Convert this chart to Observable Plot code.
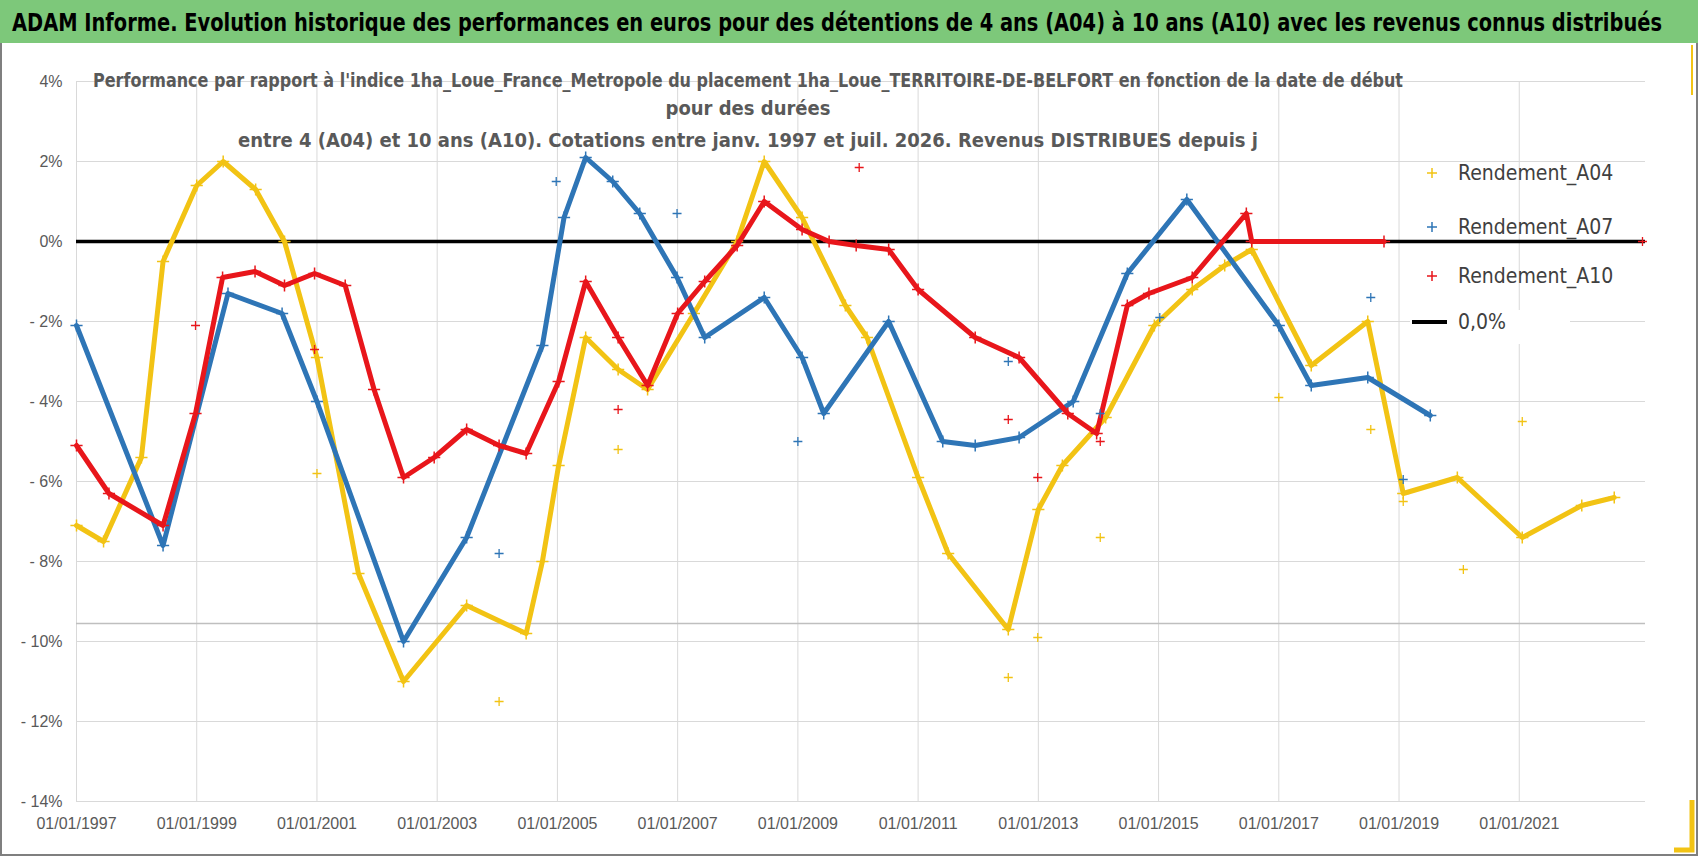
<!DOCTYPE html>
<html><head><meta charset="utf-8">
<script src="https://cdn.jsdelivr.net/npm/d3@7"></script>
<script src="https://cdn.jsdelivr.net/npm/@observablehq/plot@0.6"></script>
<style>
body{margin:0;background:#fff;font-family:"Liberation Sans Narrow","DejaVu Sans Condensed",sans-serif;}
#wrap{position:relative;width:1698px;height:856px;overflow:hidden;}
#chart{position:absolute;left:0;top:0;}
#over{position:absolute;left:0;top:0;pointer-events:none;}
</style></head><body>
<div id="wrap"><div id="chart"></div><svg id="over" width="1698" height="856"></svg></div>
<script>
// Data (x = decimal year, y = performance %)
const a04X=[1997,1997.45,1998.08,1998.44,1999,1999.44,1999.98,2000.46,2001,2001.69,2002.44,2003.49,2004.48,2004.75,2005.02,2005.47,2006.01,2006.5,2007.27,2007.99,2008.44,2009.07,2009.79,2010.15,2011,2011.5,2012.5,2013,2013.4,2014.12,2014.93,2015.56,2016.1,2016.55,2017.54,2018.48,2019.07,2019.97,2021.05,2022.04,2022.58];
const a04Y=[-7.1,-7.5,-5.4,-0.5,1.4,2.0,1.3,0,-2.9,-8.3,-11,-9.1,-9.8,-8,-5.6,-2.4,-3.2,-3.7,-1.8,0,2.0,0.6,-1.6,-2.4,-5.9,-7.8,-9.7,-6.7,-5.6,-4.4,-2.1,-1.2,-0.6,-0.2,-3.1,-2.0,-6.3,-5.9,-7.4,-6.6,-6.4];
const a07X=[1997,1998.44,1999.52,2000.42,2001,2002.44,2003.49,2004.75,2005.11,2005.47,2005.92,2006.37,2006.99,2007.45,2008.44,2009.07,2009.43,2010.51,2011.41,2011.95,2012.68,2013.58,2014.48,2015.47,2017,2017.54,2018.48,2019.52];
const a07Y=[-2.1,-7.6,-1.3,-1.8,-4.0,-10,-7.4,-2.6,0.6,2.1,1.5,0.7,-0.9,-2.4,-1.4,-2.9,-4.3,-2.0,-5.0,-5.1,-4.9,-4.0,-0.8,1.05,-2.1,-3.6,-3.4,-4.35];
const a10X=[1997,1997.54,1998.44,1998.98,1999.43,1999.97,2000.46,2000.96,2001.47,2001.95,2002.44,2002.95,2003.49,2004.03,2004.48,2005.02,2005.47,2006.01,2006.5,2007,2007.45,2007.99,2008.44,2009.07,2009.52,2009.97,2010.51,2011,2011.95,2012.68,2013.49,2013.97,2014.48,2014.84,2015.56,2016.46,2016.55,2018.75];
const a10Y=[-5.1,-6.3,-7.1,-4.3,-0.9,-0.75,-1.1,-0.8,-1.1,-3.7,-5.9,-5.4,-4.7,-5.1,-5.3,-3.5,-1.0,-2.4,-3.6,-1.8,-1.0,-0.1,1.0,0.3,0,-0.1,-0.2,-1.2,-2.4,-2.9,-4.3,-4.8,-1.6,-1.3,-0.9,0.7,0,0];
// isolated points
const outA04X=[2001,2004.03,2006.01,2012.5,2012.99,2014.03,2017,2018.53,2019.07,2020.07,2021.05];
const outA04Y=[-5.8,-11.5,-5.2,-10.9,-9.9,-7.4,-3.9,-4.7,-6.5,-8.2,-4.5];
const outA07X=[2004.03,2004.98,2006.99,2009,2012.5,2014.03,2015.02,2018.53,2019.07];
const outA07Y=[-7.8,1.5,0.7,-5.0,-3.0,-4.3,-1.9,-1.4,-5.95];
const outA10X=[1998.98,2000.96,2006.01,2010.02,2012.5,2012.99,2014.03,2023.05];
const outA10Y=[-2.1,-2.7,-4.2,1.85,-4.45,-5.9,-5.0,0];
const xTicks=[1997,1999,2001,2003,2005,2007,2009,2011,2013,2015,2017,2019,2021];
const yTicks=[4,2,0,-2,-4,-6,-8,-10,-12,-14];
const seriesNames=["Rendement_A04","Rendement_A07","Rendement_A10"];
const colors=["#F2C314","#2E75B6","#E8161B"];

const mk=(xs,ys)=>xs.map((x,i)=>({x,y:ys[i]}));
const s04=mk(a04X,a04Y),s07=mk(a07X,a07Y),s10=mk(a10X,a10Y);
const line=(d,c)=>[Plot.line(d,{x:"x",y:"y",stroke:c,strokeWidth:5}),Plot.dot(d,{x:"x",y:"y",symbol:"plus",stroke:c,r:4,strokeWidth:1.5})];
const pts=(xs,ys,c)=>Plot.dot(mk(xs,ys),{x:"x",y:"y",symbol:"plus",stroke:c,r:3,strokeWidth:1.3});

const chart=Plot.plot({
  width:1698,height:856,
  marginLeft:76,marginRight:53,marginTop:81,marginBottom:55,
  style:{fontFamily:"Liberation Sans Narrow, sans-serif",fontSize:"16px",color:"#595959",background:"transparent"},
  x:{domain:[1997,2023.1],ticks:xTicks,tickFormat:d=>"01/01/"+d,tickSize:0,tickPadding:16,label:null},
  y:{domain:[-14,4],ticks:yTicks,tickFormat:d=>d<0?"- "+(-d)+"%":d+"%",tickSize:0,tickPadding:14,label:null},
  marks:[
    Plot.gridX(xTicks,{stroke:"#d9d9d9",strokeOpacity:1}),
    Plot.gridY(yTicks,{stroke:"#d9d9d9",strokeOpacity:1}),
    Plot.ruleY([-9.55],{stroke:"#bfbfbf",strokeWidth:1.5}),
    Plot.ruleY([0],{stroke:"#000",strokeWidth:3.5}),
    ...line(s04,colors[0]),
    ...line(s07,colors[1]),
    ...line(s10,colors[2]),
    pts(outA04X,outA04Y,colors[0]),
    pts(outA07X,outA07Y,colors[1]),
    pts(outA10X,outA10Y,colors[2])
  ]
});
document.getElementById("chart").appendChild(chart);

const ov=d3.select("#over");
ov.append("rect").attr("x",1).attr("y",1).attr("width",1696).attr("height",854).attr("fill","none").attr("stroke","#7f7f7f").attr("stroke-width",2);
ov.append("rect").attr("x",0).attr("y",0).attr("width",1698).attr("height",43).attr("fill","#7DC87A");
ov.append("text").attr("x",12).attr("y",31).attr("font-size",25).attr("font-weight","bold").attr("fill","#000")
  .attr("textLength",1650).attr("lengthAdjust","spacingAndGlyphs")
  .text("ADAM Informe. Evolution historique des performances en euros pour des détentions de 4 ans (A04) à 10 ans (A10) avec les revenus connus distribués");
const sub=[["Performance par rapport à l'indice 1ha_Loue_France_Metropole  du placement 1ha_Loue_TERRITOIRE-DE-BELFORT en fonction de la date de début",81,1310],["pour des durées",109,null],["entre 4 (A04) et 10 ans (A10). Cotations entre janv. 1997 et juil. 2026. Revenus DISTRIBUES depuis j",141,1020]];
sub.forEach(([t,y,L])=>{const e=ov.append("text").attr("x",748).attr("y",y+6).attr("text-anchor","middle").attr("font-size",20).attr("font-weight","bold").attr("fill","#595959").text(t);if(L)e.attr("textLength",L).attr("lengthAdjust","spacingAndGlyphs");});
const ly=[173,227,276];
seriesNames.forEach((n,i)=>{
  ov.append("path").attr("d",`M${1432-5},${ly[i]}h10M1432,${ly[i]-5}v10`).attr("stroke",colors[i]).attr("stroke-width",1.5);
  ov.append("text").attr("x",1458).attr("y",ly[i]+7).attr("font-size",21).attr("fill","#404040").text(n);
});
ov.append("rect").attr("x",1410).attr("y",310).attr("width",160).attr("height",34).attr("fill","#fff");
ov.append("line").attr("x1",1412).attr("x2",1447).attr("y1",322).attr("y2",322).attr("stroke","#000").attr("stroke-width",4);
ov.append("text").attr("x",1458).attr("y",329).attr("font-size",21).attr("fill","#404040").text("0,0%");
ov.append("path").attr("d","M1692,800V850H1674").attr("stroke","#F2C314").attr("stroke-width",5).attr("fill","none");
ov.append("path").attr("d","M1692,45V95").attr("stroke","#F2C314").attr("stroke-width",2).attr("fill","none");
</script></body></html>
